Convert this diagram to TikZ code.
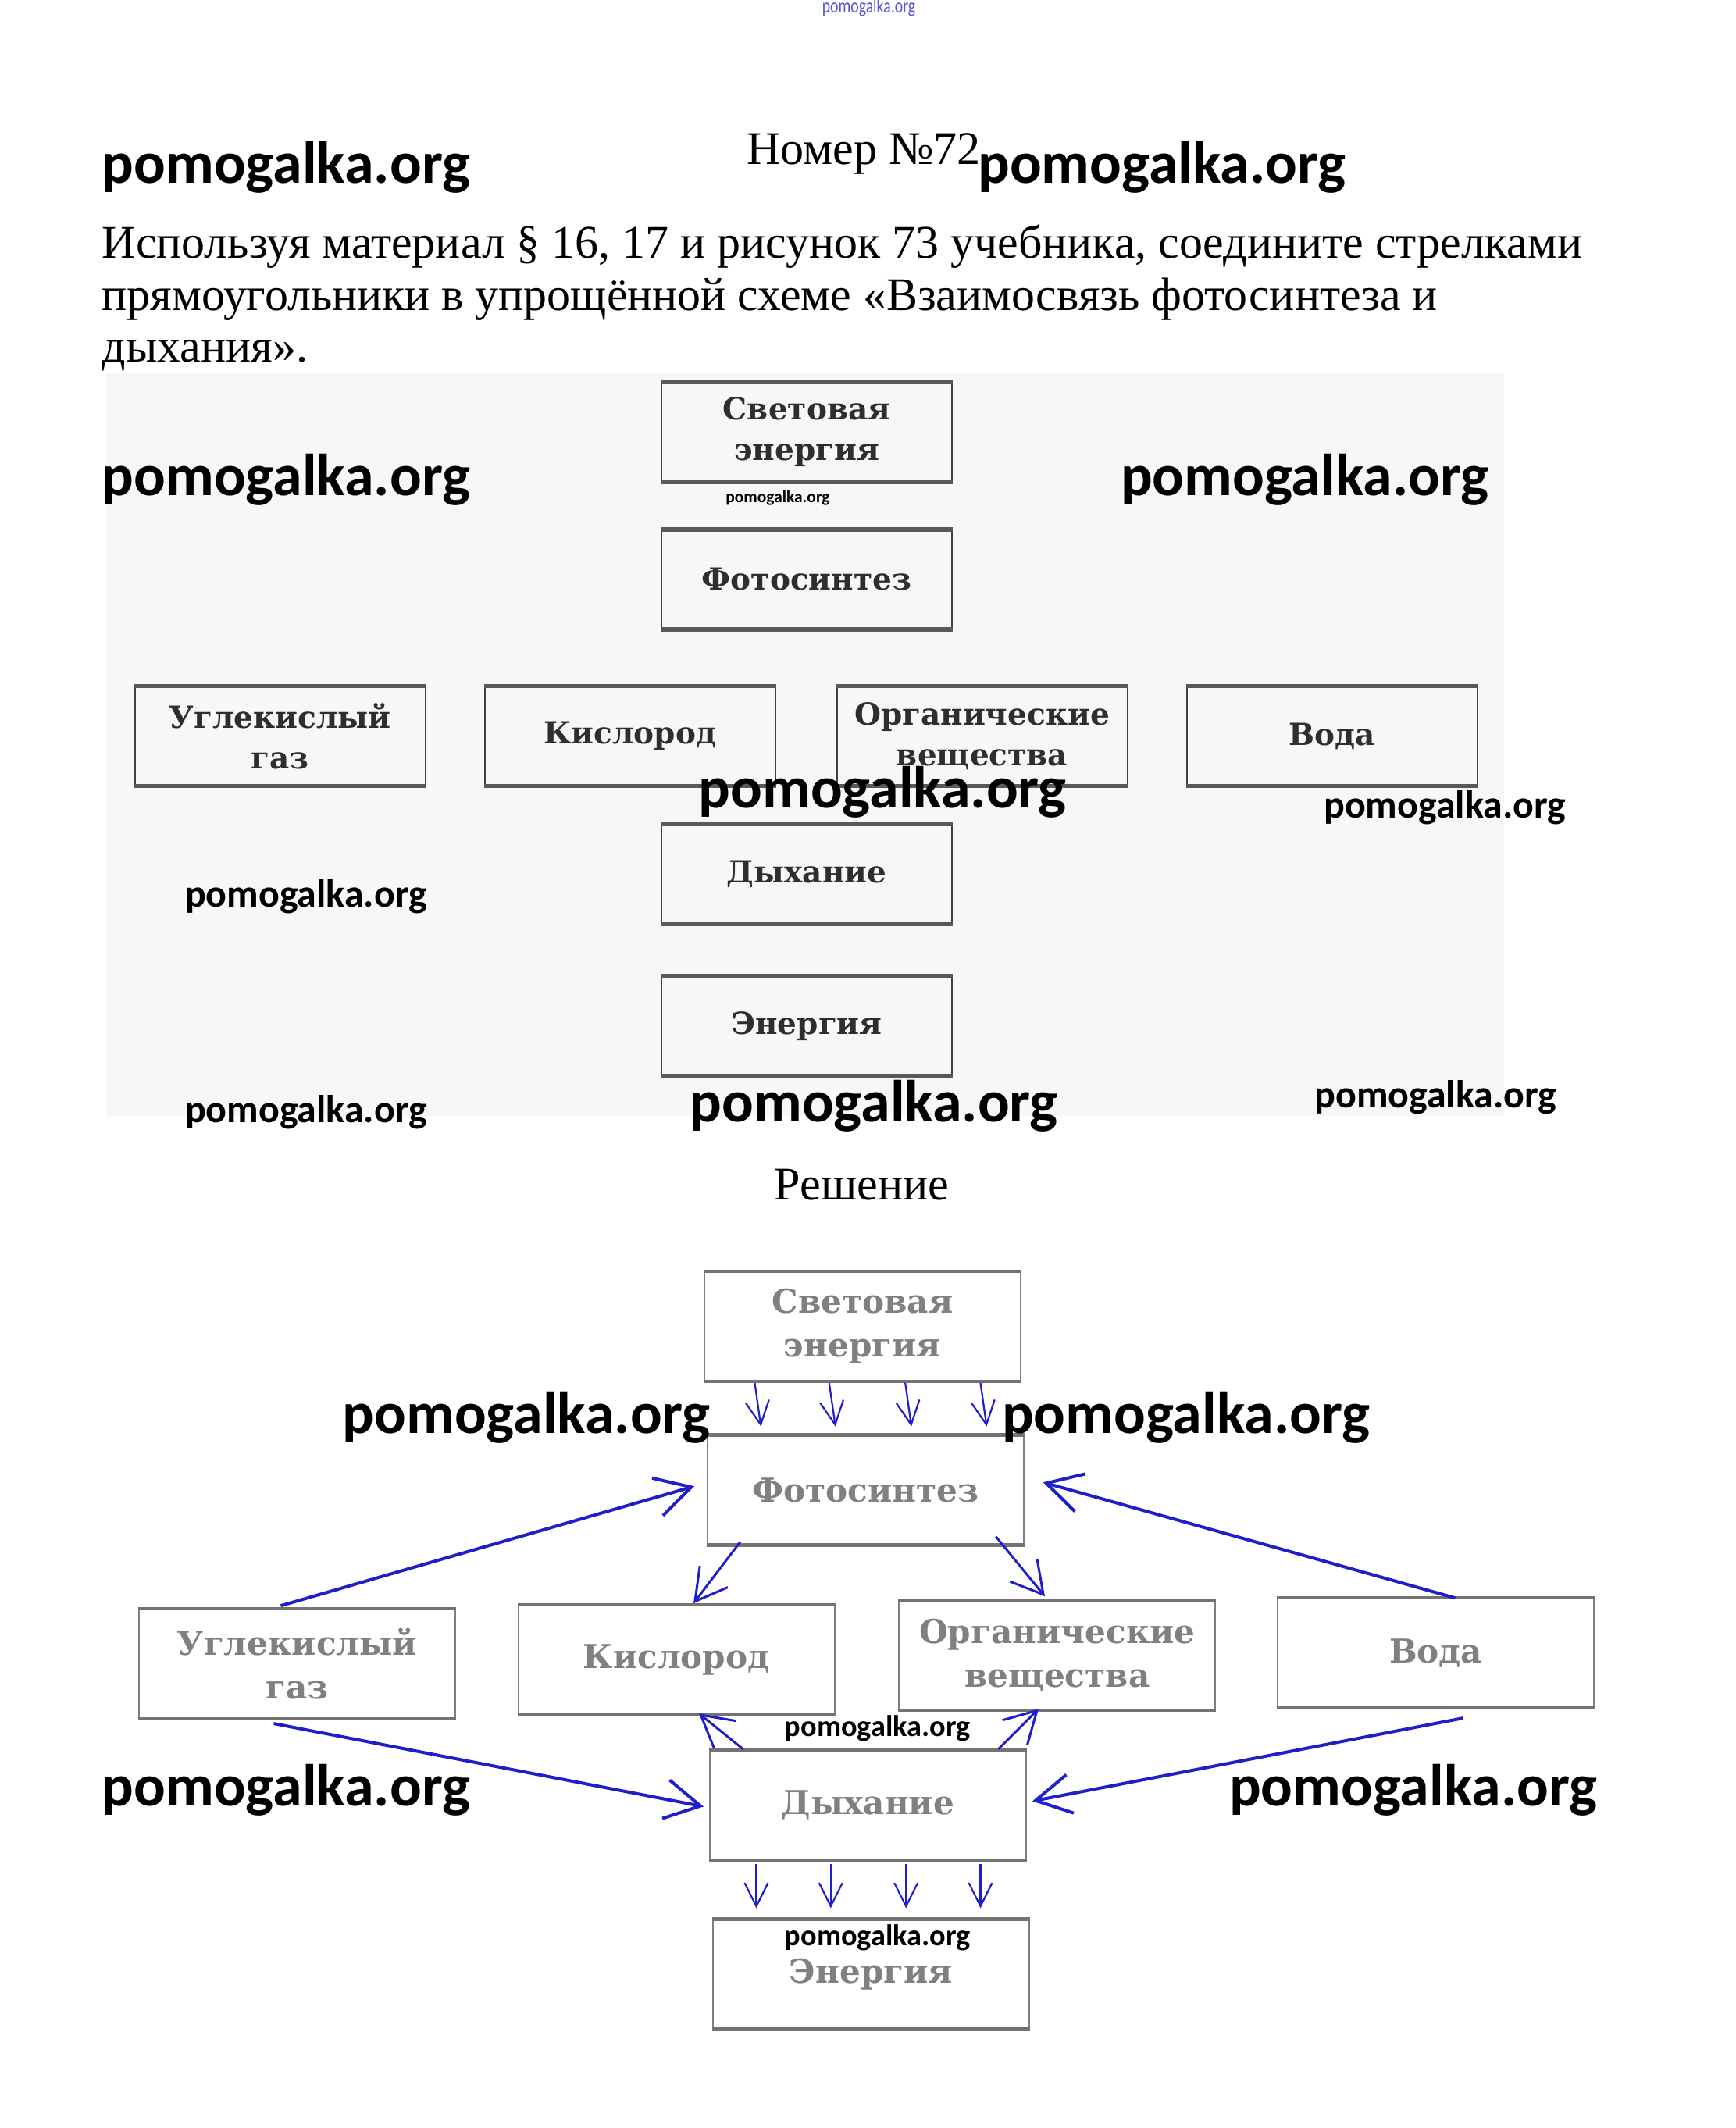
\documentclass[tikz,border=0pt]{standalone}
\usepackage{fontspec}
\setmainfont{Liberation Serif}
\newfontfamily\boxfont{DejaVu Serif}
\newfontfamily\wmfont{Carlito}
\usetikzlibrary{arrows.meta,calc}
\definecolor{arrblue}{RGB}{30,30,205}
\begin{document}
\begin{tikzpicture}[x=0.09933mm,y=-0.09933mm,
  wmL/.style={anchor=base west,inner sep=0,font=\wmfont\bfseries\fontsize{21.6}{24}\selectfont},
  wmM/.style={anchor=base west,inner sep=0,font=\wmfont\bfseries\fontsize{14.2}{16}\selectfont},
  wmS/.style={anchor=base west,inner sep=0,font=\wmfont\bfseries\fontsize{10.9}{12}\selectfont},
  wmT/.style={anchor=base west,inner sep=0,font=\wmfont\bfseries\fontsize{6.1}{7}\selectfont},
  body/.style={anchor=base west,inner sep=0,font=\fontsize{17.05}{19}\selectfont},
  qbox/.style={draw=black!75,line width=0.2mm,minimum width=37.2mm,minimum height=12.6mm,inner sep=0,
    align=center,text=black!82,font=\boxfont\bfseries\fontsize{11.1}{14.7}\selectfont},
  sbox/.style={draw=black!50,line width=0.2mm,minimum width=40.5mm,minimum height=13.9mm,inner sep=0,
    align=center,text=black!50,font=\boxfont\bfseries\fontsize{12}{16}\selectfont},
  qedge/.style={line width=0.55mm,draw=black!65},
  sedge/.style={line width=0.45mm,draw=black!55},
  bigarr/.style={draw=arrblue,line width=0.4mm,-{Straight Barb[length=4.5mm,width=5mm,line width=0.4mm]}},
  midarr/.style={draw=arrblue,line width=0.3mm,-{Straight Barb[length=4mm,width=4.5mm,line width=0.3mm]}},
  smallarr/.style={draw=arrblue,line width=0.22mm,-{Straight Barb[length=3mm,width=3mm,line width=0.22mm]}}
]
\useasboundingbox (0,0) rectangle (2237,2743.4);
\fill[white] (0,0) rectangle (2237,2743.4);
% background of question figure
\fill[black!3] (137,481) rectangle (1939,1439);

% header
\node[anchor=center,inner sep=0,xscale=0.75,text=arrblue!75,font=\wmfont\fontsize{7.5}{8}\selectfont] (wtop) at (1120,10) {pomogalka.org};
\node[wmL] (w1) at (131,236) {pomogalka.org};
\node[anchor=base west,inner sep=0,font=\fontsize{17.1}{19}\selectfont] (title) at (962,212) {Номер №72};
\node[wmL] (w2) at (1260,236) {pomogalka.org};
\node[body] (l1) at (131,333) {Используя материал § 16, 17 и рисунок 73 учебника, соедините стрелками};
\node[body] (l2) at (131,400) {прямоугольники в упрощённой схеме «Взаимосвязь фотосинтеза и};
\node[body] (l3) at (131,467) {дыхания».};

% question boxes
\node[qbox] (SE1) at (1040,557) {Световая\\энергия};
\node[qbox] (F1) at (1040,747) {Фотосинтез};
\node[qbox] (U1) at (361,949) {Углекислый\\газ};
\node[qbox] (K1) at (812,949) {Кислород};
\node[qbox] (O1) at (1266,949) {Органические\\вещества};
\node[qbox] (V1) at (1717,949) {Вода};
\node[qbox] (D1) at (1040,1127) {Дыхание};
\node[qbox] (E1) at (1040,1323) {Энергия};
\foreach \n in {SE1,F1,U1,K1,O1,V1,D1,E1}{
  \draw[qedge] (\n.north west) -- (\n.north east);
  \draw[qedge] (\n.south west) -- (\n.south east);
}

% question watermarks
\node[wmT] (w3) at (935,648) {pomogalka.org};
\node[wmL] (w4) at (131,639) {pomogalka.org};
\node[wmL] (w5) at (1444,639) {pomogalka.org};
\node[wmL] (w6) at (900,1041) {pomogalka.org};
\node[wmM] (w7) at (1706,1055) {pomogalka.org};
\node[wmM] (w8) at (238,1169) {pomogalka.org};
\node[wmM] (w9) at (238,1447) {pomogalka.org};
\node[wmL] (w10) at (889,1446) {pomogalka.org};
\node[wmM] (w11) at (1694,1428) {pomogalka.org};

\node[anchor=base,inner sep=0,font=\fontsize{17.1}{19}\selectfont] (sol) at (1111,1547) {Решение};

% solution boxes
\node[sbox] (SE2) at (1112,1710) {Световая\\энергия};
\node[sbox] (F2) at (1116,1921) {Фотосинтез};
\node[sbox] (U2) at (383,2145) {Углекислый\\газ};
\node[sbox] (K2) at (872,2140) {Кислород};
\node[sbox] (O2) at (1363,2134) {Органические\\вещества};
\node[sbox] (V2) at (1851,2131) {Вода};
\node[sbox] (D2) at (1119,2327) {Дыхание};
\node[sbox] (E2) at (1123,2545) {Энергия};
\foreach \n in {SE2,F2,U2,K2,O2,V2,D2,E2}{
  \draw[sedge] (\n.north west) -- (\n.north east);
  \draw[sedge] (\n.south west) -- (\n.south east);
}

% arrows
\foreach \dx in {-139,-43,55,152}{
  \draw[smallarr] ($(SE2.south)+(\dx,2)$) -- ($(F2.north)+(\dx+4,-11)$);
}
\foreach \dx in {-144,-48,49,145}{
  \draw[smallarr] ($(D2.south)+(\dx,5)$) -- ($(E2.north)+(\dx-4,-14)$);
}
\draw[bigarr] ($(U2.north)+(-21,-4)$) -- ($(F2.west)+(-16,-5)$);
\draw[bigarr] ($(V2.north)+(25,0)$) -- ($(F2.east)+(24,-10)$);
\draw[midarr] ($(F2.south west)+(43,-4)$) -- ($(K2.north)+(22,-2)$);
\draw[midarr] ($(F2.south east)+(-37,-11)$) -- ($(O2.north)+(-16,-5)$);
\draw[bigarr] ($(U2.south)+(-30,6)$) -- ($(D2.west)+(-7,2)$);
\draw[bigarr] ($(V2.south)+(35,13)$) -- ($(D2.east)+(7,-5)$);
\draw[midarr] ($(D2.north west)+(44,-1)$) -- ($(K2.south)+(29,-2)$);
\draw[midarr] ($(D2.north east)+(-37,-1)$) -- ($(O2.south)+(-24,-2)$);

% solution watermarks
\node[wmL] (w12) at (441,1848) {pomogalka.org};
\node[wmL] (w13) at (1291,1848) {pomogalka.org};
\node[wmS] (w14) at (1011,2238) {pomogalka.org};
\node[wmL] (w15) at (131,2328) {pomogalka.org};
\node[wmL] (w16) at (1584,2328) {pomogalka.org};
\node[wmS] (w17) at (1011,2508) {pomogalka.org};
\end{tikzpicture}
\end{document}
